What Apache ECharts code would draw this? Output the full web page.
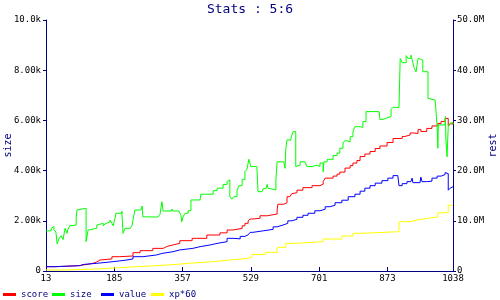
<!DOCTYPE html>
<html><head><meta charset="utf-8">
<script src="https://cdn.jsdelivr.net/npm/echarts@6/dist/echarts.min.js"></script>
<style>html,body{margin:0;padding:0;background:#fff}#c{width:500px;height:300px}</style>
</head><body><div id="c"></div>
<script>
const titleText = 'Stats : 5:6';
const xTicks = [13,185,357,529,701,873,1038];
const seriesNames = ['score','size','value','xp*60'];
const seriesColors = ['#ff0000','#00ff00','#0000ff','#ffff00'];

const sizeX = [13,26,31,33,38,41,46,51,56,61,66,68,73,78,89,91,96,114,116,119,124,141,144,157,162,167,174,179,182,187,189,204,207,212,225,230,232,237,252,255,257,262,295,300,305,308,330,333,348,353,355,358,363,371,378,401,403,434,444,459,469,471,476,481,486,494,499,507,514,519,524,529,544,547,557,560,567,570,572,577,592,595,612,615,617,620,630,635,642,645,653,665,670,683,685,695,703,711,713,721,736,746,753,761,766,771,779,786,791,804,811,819,852,854,862,872,882,887,902,905,910,920,925,932,937,940,945,950,955,962,975,980,993,995,998,1000,1001,1018,1019,1020,1023,1026,1031,1038];
const sizeY = [1600,1700,1770,1650,1550,1080,1300,1400,1250,1700,1500,1650,1800,1830,2110,2430,2500,1170,1350,1630,1700,1830,1900,1800,1880,1950,2030,1900,1800,2100,2300,2380,1500,1700,1700,1830,2030,2430,2460,2590,2160,2150,2200,2250,2760,2390,2470,2390,2350,2200,1960,2150,2300,2400,2830,2850,3060,3200,3300,3450,3560,3630,2960,2860,2960,3200,3400,3650,3960,4050,4450,4160,4160,3160,3160,3280,3350,3450,3300,3230,3630,4350,4300,4090,4890,5220,5300,5550,4160,4220,4350,4350,4160,4160,4220,4160,4300,3950,4350,4450,4600,4700,4890,5100,5200,5150,5350,5550,5750,5720,5950,6350,6350,6040,6100,6150,6440,6520,6520,8470,8300,8580,8470,8600,8300,8100,7940,8470,8400,7940,6880,6810,6810,6400,5750,4890,5820,5820,6150,5300,4550,5750,5900,5850];

const scoreX = [13,36,94,116,131,141,149,179,199,232,250,282,308,318,333,350,381,418,451,469,484,507,514,522,527,534,552,570,595,597,612,620,627,632,637,645,660,683,703,711,716,736,746,753,766,779,786,796,804,816,829,842,854,872,887,910,917,930,937,950,957,972,985,1000,1008,1018,1026,1031,1038];
const scoreY = [0.86,1.06,1.3,1.53,1.8,2.19,2.4,2.85,2.99,3.65,4.05,4.51,4.9,5.2,5.51,6.04,6.51,7.17,7.6,8.17,8.5,9.0,9.5,9.96,10.36,10.5,11.0,11.35,12.15,13.3,13.6,14.8,15.0,15.4,15.6,16.1,16.6,17.0,17.3,17.8,18.5,18.9,19.3,19.7,20.5,21.0,21.5,22.0,22.8,23.3,23.8,24.4,24.9,25.6,26.4,26.8,27.1,27.5,27.4,28.2,27.8,28.4,28.9,29.4,29.8,30.4,28.9,29.3,29.7];

const valueX = [13,36,99,106,141,182,217,232,257,292,305,333,350,383,401,426,444,469,484,502,514,522,527,534,560,585,595,610,622,632,645,660,673,690,703,716,728,741,758,774,791,804,816,829,842,859,874,887,899,902,910,922,932,935,937,955,957,960,972,985,998,1008,1018,1023,1026,1031,1036,1038];
const valueY = [0.86,1.06,1.3,1.53,1.86,2.19,2.4,2.85,3.2,3.5,3.85,4.2,4.51,4.85,5.18,5.5,5.84,6.51,6.4,6.9,7.2,7.5,7.7,8.0,8.3,8.8,9.16,9.5,10.0,10.3,10.7,11.1,11.5,12.0,12.3,12.8,13.1,13.6,14.1,14.8,15.3,15.9,16.5,17.0,17.5,18.0,18.5,19.0,19.3,17.0,17.4,17.8,17.6,18.5,17.6,17.6,18.7,17.8,17.9,18.5,18.9,19.2,19.6,19.4,16.1,16.5,16.8,16.8];

const xpX = [13,66,141,199,242,288,330,376,434,476,522,532,565,595,617,640,711,758,786,804,902,930,950,975,1000,1026,1038];
const xpY = [0.2,0.4,0.66,0.86,1.05,1.25,1.55,1.86,2.19,2.52,2.85,3.3,3.72,4.72,5.5,5.84,6.37,6.97,7.5,7.83,9.82,10.2,10.5,10.8,11.6,13.1,13.1];

const FONT = 'DejaVu Sans Mono';
const NAVY = '#000080';
const zip = (xs, ys) => xs.map((x, i) => [x, ys[i]]);

const chart = echarts.init(document.getElementById('c'), null, {renderer: 'canvas'});
const mkSeries = (name, color, xs, ys, axis) => ({
  name, type: 'line', step: 'end', yAxisIndex: axis, data: zip(xs, ys),
  showSymbol: false, symbol: 'none', lineStyle: {color, width: 1}, itemStyle: {color},
  silent: true, animation: false
});
const legendLefts = [3, 52, 101, 151];
chart.setOption({
  animation: false,
  title: {text: titleText, left: 'center', top: 3, padding: 0, textStyle: {fontFamily: FONT, fontSize: 13, fontWeight: 'normal', color: NAVY}},
  legend: seriesNames.map((n, i) => ({
    data: [n], left: legendLefts[i], top: 290, padding: 0, icon: 'rect', itemWidth: 13, itemHeight: 3,
    textStyle: {fontFamily: FONT, fontSize: 9, color: NAVY}, selectedMode: false
  })),
  grid: {left: 46, right: 47, top: 20, bottom: 29, containLabel: false, outerBoundsMode: 'none'},
  xAxis: {
    type: 'value', min: 13, max: 1038,
    axisLine: {lineStyle: {color: NAVY, width: 1}},
    axisTick: {inside: true, length: 4, customValues: xTicks, lineStyle: {color: NAVY}},
    axisLabel: {customValues: xTicks, fontFamily: FONT, fontSize: 9, color: '#000', margin: 3, formatter: v => String(v)},
    splitLine: {show: false}
  },
  yAxis: [
    {type: 'value', position: 'left', min: 0, max: 10000, interval: 2000, name: 'size', nameLocation: 'middle', nameGap: 33, nameMoveOverlap: false,
     nameTextStyle: {fontFamily: FONT, fontSize: 10, color: NAVY},
     axisLine: {show: true, lineStyle: {color: NAVY, width: 1}},
     axisTick: {show: true, length: 3, lineStyle: {color: NAVY}},
     axisLabel: {fontFamily: FONT, fontSize: 9, color: '#000', margin: 5,
       formatter: v => v === 0 ? '0' : (v >= 10000 ? (v/1000).toFixed(1) : (v/1000).toFixed(2)) + 'k'},
     splitLine: {show: false}},
    {type: 'value', position: 'right', min: 0, max: 50, interval: 10, name: 'rest', nameLocation: 'middle', nameGap: 35, nameMoveOverlap: false,
     nameTextStyle: {fontFamily: FONT, fontSize: 10, color: NAVY},
     axisLine: {show: true, lineStyle: {color: NAVY, width: 1}},
     axisTick: {show: true, length: 3, lineStyle: {color: NAVY}},
     axisLabel: {fontFamily: FONT, fontSize: 9, color: '#000', margin: 4,
       formatter: v => v === 0 ? '0' : v.toFixed(1) + 'M'},
     splitLine: {show: false}}
  ],
  series: [
    mkSeries(seriesNames[0], seriesColors[0], scoreX, scoreY, 1),
    mkSeries(seriesNames[1], seriesColors[1], sizeX, sizeY, 0),
    mkSeries(seriesNames[2], seriesColors[2], valueX, valueY, 1),
    mkSeries(seriesNames[3], seriesColors[3], xpX, xpY, 1)
  ]
});
</script></body></html>
